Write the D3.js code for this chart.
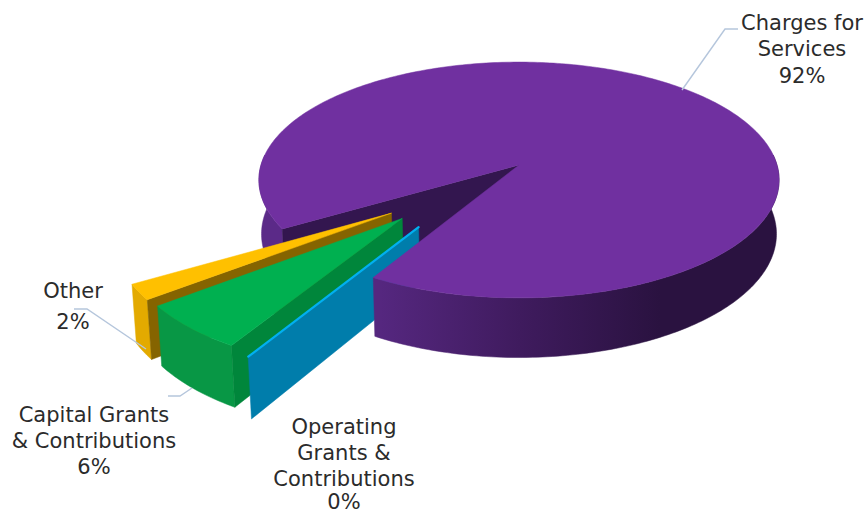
<!DOCTYPE html>
<html>
<head>
<meta charset="utf-8">
<title>Revenue by source</title>
<script src="https://cdn.jsdelivr.net/npm/d3@7/dist/d3.min.js"></script>
<style>
  html, body { margin: 0; padding: 0; background: #fff; }
  svg { display: block; }
  text { font-family: "DejaVu Sans", sans-serif; font-size: 21px; fill: #2b2b2b; text-anchor: middle; }
</style>
</head>
<body>
<svg id="chart" width="867" height="514"></svg>
<script>
// Revenue shares, clockwise from the first slice
const categories = ["Charges for Services", "Operating Grants & Contributions", "Capital Grants & Contributions", "Other"];
const shares = [92, 0, 6, 2];
// How far each slice is pulled out of the disc, and in which direction (degrees clockwise from up)
const explosion = [0, 0.62, 0.61, 0.613];
const explosionBearing = [0, 216, 224.5, 230];
const topColors = ["#7030a0", "#00b0f0", "#00b050", "#ffc000"];
const wallColors = ["url(#purpleWall)", "#007dab", "#089745", "#e3aa00"];
const faceColors = ["#33164f", "#007dab", "#00863b", "#856400"];

// Label layout: text lines with their centre and baselines, leader polylines
const labelLines = [
  { x: 802, lines: [["Charges for", 30], ["Services", 56], ["92%", 83]], leader: [[682, 90], [725, 29], [738, 29]] },
  { x: 344, lines: [["Operating", 434], ["Grants &", 460], ["Contributions", 486], ["0%", 509]], leader: null },
  { x: 94, lines: [["Capital Grants", 422], ["& Contributions", 448], ["6%", 474]], leader: [[168, 396], [180, 396], [192, 388]] },
  { x: 73, lines: [["Other", 298], ["2%", 329]], leader: [[74, 309], [87, 309], [146, 349]] }
];

// Camera: the disc is tilted, so nearer points scale up and lower points pull inward
const centerX = 519, centerY = 165, radiusX = 258, radiusY = 116;
const nearGain = 0.127, depthGain = 0.01, thickness = 54;
const xScale = d3.scaleLinear().domain([-1, 1]).range([centerX - radiusX, centerX + radiusX]);
const yScale = d3.scaleLinear().domain([-1, 1]).range([centerY - radiusY, centerY + radiusY]);

function project(u, v, z) {
  const w = 1 - nearGain * v + depthGain * z;
  return [xScale(u / w), yScale(v / w) + (thickness * z) / w];
}

const svg = d3.select("#chart");
const defs = svg.append("defs");
const grad = defs.append("linearGradient").attr("id", "purpleWall")
  .attr("gradientUnits", "userSpaceOnUse")
  .attr("x1", 380).attr("x2", 660).attr("y1", 0).attr("y2", 0);
[[0, "#55277f"], [0.5, "#3f1b5e"], [1, "#2a1240"]].forEach(([o, c]) =>
  grad.append("stop").attr("offset", o).attr("stop-color", c));

const wedges = d3.pie().sort(null).value(d => d)
  .startAngle(239 * Math.PI / 180).endAngle(599 * Math.PI / 180)(shares);

const line = d3.line();
const step = Math.PI / 180;

function offsetOf(i) {
  const b = explosionBearing[i] * step;
  return [explosion[i] * Math.sin(b), -explosion[i] * Math.cos(b)];
}
function arcPoints(a0, a1, off, z) {
  const n = Math.max(1, Math.ceil((a1 - a0) / step));
  return d3.range(n + 1).map(k => {
    const a = a0 + (a1 - a0) * k / n;
    return project(off[0] + Math.sin(a), off[1] - Math.cos(a), z);
  });
}
function cutFace(a, off) {
  return [
    project(off[0], off[1], 0),
    project(off[0] + Math.sin(a), off[1] - Math.cos(a), 0),
    project(off[0] + Math.sin(a), off[1] - Math.cos(a), 1),
    project(off[0], off[1], 1)
  ];
}
function wallPoly(a0, a1, off) {
  return arcPoints(a0, a1, off, 0).concat(arcPoints(a0, a1, off, 1).reverse());
}
// Portions of the outer wall that face the viewer (85deg..275deg, modulo a turn)
function frontRanges(a0, a1) {
  const out = [];
  for (let t = -1; t <= 2; t++) {
    const lo = Math.max(a0, (85 + 360 * t) * step), hi = Math.min(a1, (275 + 360 * t) * step);
    if (hi > lo) out.push([lo, hi]);
  }
  return out;
}
const path = (g, pts, fill, sw) => g.append("path").attr("d", line(pts) + "Z")
  .attr("fill", fill).attr("stroke", fill).attr("stroke-width", sw === undefined ? 0.5 : sw).attr("stroke-linejoin", "round");

function drawSides(g, w, i, ranges) {
  const off = offsetOf(i);
  ranges.forEach(([a, b]) => path(g, wallPoly(a, b, off), wallColors[i]));
  if (Math.sin(w.startAngle) < 0) path(g, cutFace(w.startAngle, off), faceColors[i]);
  if (w.endAngle > w.startAngle && Math.sin(w.endAngle) > 0) path(g, cutFace(w.endAngle, off), faceColors[i]);
}
function drawTop(g, w, i) {
  const off = offsetOf(i);
  const flat = w.endAngle === w.startAngle;
  const pts = [project(off[0], off[1], 0)].concat(arcPoints(w.startAngle, w.endAngle, off, 0));
  path(g, pts, topColors[i], flat ? 2.2 : 0.5);
}

const g = svg.append("g");
const ranges0 = frontRanges(wedges[0].startAngle, wedges[0].endAngle);
// Far part of the large slice sits behind the exploded ones
path(g, wallPoly(ranges0[0][0], ranges0[0][1], [0, 0]), "#5b2a88");
path(g, cutFace(wedges[0].startAngle, [0, 0]), faceColors[0]);

// Exploded slices, back to front
[3, 2, 1].forEach(i => {
  const w = wedges[i];
  drawSides(g, w, i, frontRanges(w.startAngle, w.endAngle));
  drawTop(g, w, i);
});

// Near part of the large slice and its top surface
ranges0.slice(1).forEach(([a, b]) => path(g, wallPoly(a, b, [0, 0]), wallColors[0]));
drawTop(g, wedges[0], 0);

// Leaders and labels
const labels = svg.append("g");
labelLines.forEach(l => {
  if (l.leader) labels.append("path").attr("d", line(l.leader)).attr("fill", "none")
    .attr("stroke", "#b5c6dc").attr("stroke-width", 1.4);
  l.lines.forEach(([t, y]) => labels.append("text").attr("x", l.x).attr("y", y).text(t));
});
</script>
</body>
</html>
